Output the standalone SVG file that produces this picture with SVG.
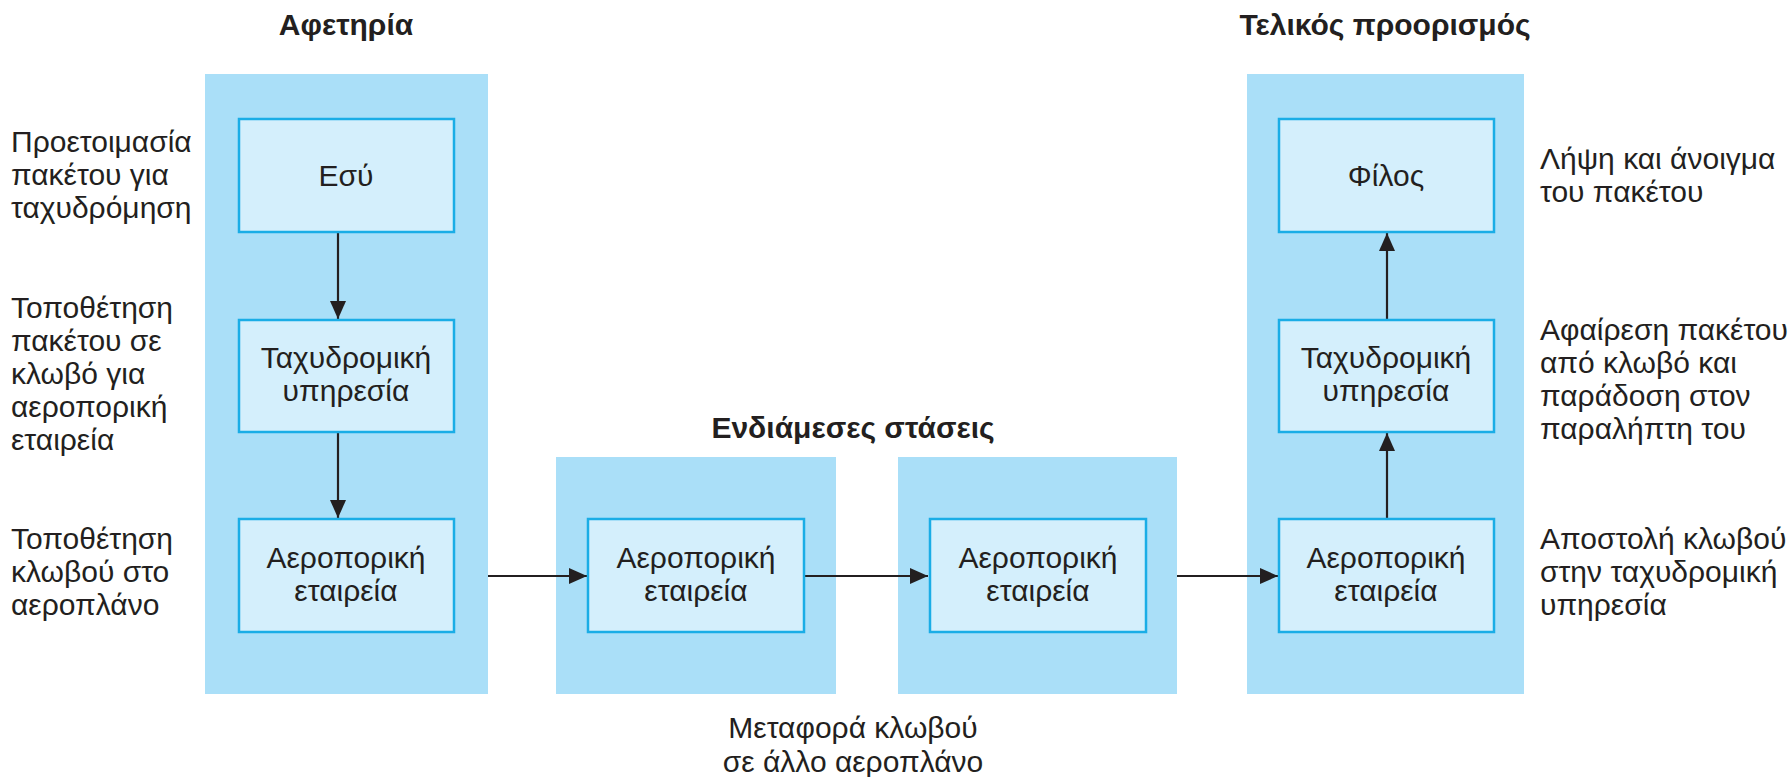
<svg xmlns="http://www.w3.org/2000/svg" width="1790" height="777" viewBox="0 0 1790 777">
<defs>
<style>
text{font-family:"Liberation Sans",Arial,sans-serif;fill:#231f20;font-size:30px}
.t{font-weight:bold;text-anchor:middle}
.c{text-anchor:middle}
.panel{fill:#aadff8}
.box{fill:#d4effc;stroke:#1aade6;stroke-width:2.5}
.ar{stroke:#231f20;stroke-width:2.2;fill:none;marker-end:url(#ah)}
</style>
<marker id="ah" viewBox="0 0 18 16" refX="18" refY="8" markerWidth="18" markerHeight="16" markerUnits="userSpaceOnUse" orient="auto">
<path d="M0,0 L18,8 L0,16 z" fill="#231f20"/>
</marker>
</defs>
<rect width="1790" height="777" fill="#ffffff"/>

<g id="panels">
<rect class="panel" x="205" y="74" width="283" height="620"/>
<rect class="panel" x="556" y="457" width="280" height="237"/>
<rect class="panel" x="898" y="457" width="279" height="237"/>
<rect class="panel" x="1247" y="74" width="277" height="620"/>
</g>

<g id="titles">
<text class="t" x="346" y="35">Αφετηρία</text>
<text class="t" x="853" y="438">Ενδιάμεσες στάσεις</text>
<text class="t" x="1385" y="35">Τελικός προορισμός</text>
</g>

<g id="connectors">
<line class="ar" x1="338" y1="232" x2="338" y2="319"/>
<line class="ar" x1="338" y1="432" x2="338" y2="518"/>
<line class="ar" x1="488" y1="576" x2="587" y2="576"/>
<line class="ar" x1="805" y1="576" x2="928" y2="576"/>
<line class="ar" x1="1177" y1="576" x2="1278" y2="576"/>
<line class="ar" x1="1387" y1="519" x2="1387" y2="433"/>
<line class="ar" x1="1387" y1="320" x2="1387" y2="233"/>
</g>

<g id="node-esu">
<rect class="box" x="239" y="119" width="215" height="113"/>
<text class="c" x="346" y="186">Εσύ</text>
</g>
<g id="node-tax1">
<rect class="box" x="239" y="320" width="215" height="112"/>
<text class="c" x="346" y="368">Ταχυδρομική</text>
<text class="c" x="346" y="401">υπηρεσία</text>
</g>
<g id="node-aero1">
<rect class="box" x="239" y="519" width="215" height="113"/>
<text class="c" x="346" y="568">Αεροπορική</text>
<text class="c" x="346" y="601">εταιρεία</text>
</g>
<g id="node-aero2">
<rect class="box" x="588" y="519" width="216" height="113"/>
<text class="c" x="696" y="568">Αεροπορική</text>
<text class="c" x="696" y="601">εταιρεία</text>
</g>
<g id="node-aero3">
<rect class="box" x="930" y="519" width="216" height="113"/>
<text class="c" x="1038" y="568">Αεροπορική</text>
<text class="c" x="1038" y="601">εταιρεία</text>
</g>
<g id="node-aero4">
<rect class="box" x="1279" y="519" width="215" height="113"/>
<text class="c" x="1386" y="568">Αεροπορική</text>
<text class="c" x="1386" y="601">εταιρεία</text>
</g>
<g id="node-tax2">
<rect class="box" x="1279" y="320" width="215" height="112"/>
<text class="c" x="1386" y="368">Ταχυδρομική</text>
<text class="c" x="1386" y="401">υπηρεσία</text>
</g>
<g id="node-filos">
<rect class="box" x="1279" y="119" width="215" height="113"/>
<text class="c" x="1386" y="186">Φίλος</text>
</g>

<g id="annotations">
<text x="11" y="152">Προετοιμασία</text>
<text x="11" y="185">πακέτου για</text>
<text x="11" y="218">ταχυδρόμηση</text>

<text x="11" y="318">Τοποθέτηση</text>
<text x="11" y="351">πακέτου σε</text>
<text x="11" y="384">κλωβό για</text>
<text x="11" y="417">αεροπορική</text>
<text x="11" y="450">εταιρεία</text>

<text x="11" y="549">Τοποθέτηση</text>
<text x="11" y="582">κλωβού στο</text>
<text x="11" y="615">αεροπλάνο</text>

<text x="1540" y="169">Λήψη και άνοιγμα</text>
<text x="1540" y="202">του πακέτου</text>

<text x="1540" y="340">Αφαίρεση πακέτου</text>
<text x="1540" y="373">από κλωβό και</text>
<text x="1540" y="406">παράδοση στον</text>
<text x="1540" y="439">παραλήπτη του</text>

<text x="1540" y="549">Αποστολή κλωβού</text>
<text x="1540" y="582">στην ταχυδρομική</text>
<text x="1540" y="615">υπηρεσία</text>

<text class="c" x="853" y="738">Μεταφορά κλωβού</text>
<text class="c" x="853" y="772">σε άλλο αεροπλάνο</text>
</g>
</svg>
